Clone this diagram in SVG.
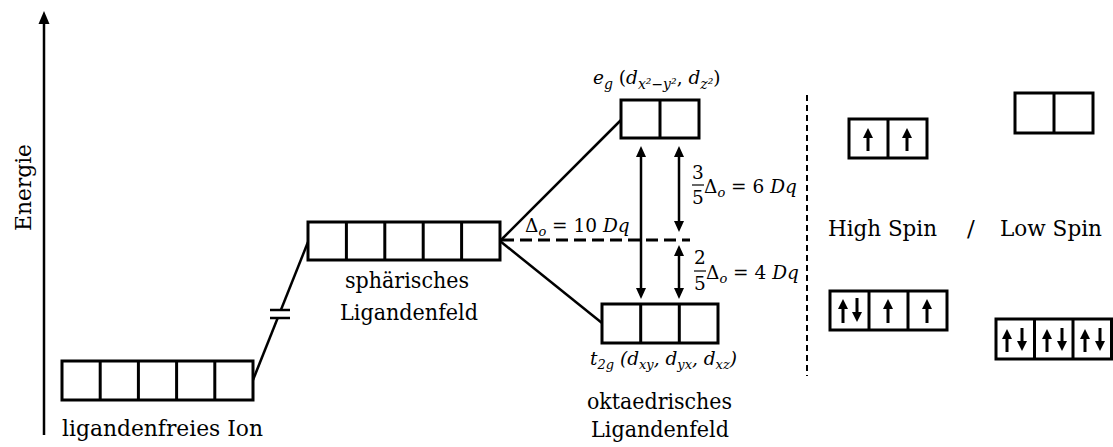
<svg xmlns="http://www.w3.org/2000/svg" width="1113" height="447" viewBox="0 0 1113 447">
<style>
.box{fill:#fff;stroke:#000;stroke-width:3}
.cell{stroke:#000;stroke-width:3}
.ln{stroke:#000;stroke-width:2.5;fill:none}
.t{font-family:'DejaVu Serif',serif;font-size:23px;fill:#000}
.m{font-family:'DejaVu Serif',serif;font-size:18.5px;fill:#000}
.i{font-style:italic}
.e{stroke:#000;stroke-width:3}
</style>
<defs>
<marker id="ah" markerUnits="userSpaceOnUse" markerWidth="12" markerHeight="12" refX="1" refY="5" orient="auto-start-reverse">
<path d="M0,0 L11,5 L0,10 Z" fill="#000"/>
</marker>
<marker id="eh" markerUnits="userSpaceOnUse" markerWidth="11" markerHeight="11" refX="1" refY="5" orient="auto">
<path d="M0,0 L10,5 L0,10 Z" fill="#000"/>
</marker>
</defs>

<g id="axis">
<line x1="44" y1="435" x2="44" y2="22" class="ln"/>
<path d="M38.5,24 L44,11 L49.5,24 Z" fill="#000"/>
<text class="t" font-size="25" transform="translate(31,231) rotate(-90)" textLength="87" lengthAdjust="spacingAndGlyphs">Energie</text>
</g>

<g id="connectors">
<line x1="253" y1="380" x2="277.7" y2="318" class="ln"/>
<line x1="280.9" y1="310" x2="308" y2="242" class="ln"/>
<line x1="270" y1="310" x2="290" y2="310" class="ln"/>
<line x1="270" y1="318" x2="290" y2="318" class="ln"/>
<line x1="500" y1="241" x2="621" y2="120" class="ln"/>
<line x1="500" y1="241" x2="602" y2="323" class="ln"/>
<line x1="502" y1="240" x2="690" y2="240" stroke="#000" stroke-width="3" stroke-dasharray="12,6"/>
<line x1="641" y1="156" x2="641" y2="289" class="ln" marker-start="url(#ah)" marker-end="url(#ah)"/>
<line x1="679" y1="156" x2="679" y2="222" class="ln" marker-start="url(#ah)" marker-end="url(#ah)"/>
<line x1="679" y1="255" x2="679" y2="289" class="ln" marker-start="url(#ah)" marker-end="url(#ah)"/>
<line x1="807" y1="95" x2="807" y2="376" stroke="#000" stroke-width="2" stroke-dasharray="6,4"/>
</g>

<g id="ligandenfreies">
<rect x="62" y="361" width="191" height="39" class="box"/>
<line x1="100.2" y1="361" x2="100.2" y2="400" class="cell"/>
<line x1="138.4" y1="361" x2="138.4" y2="400" class="cell"/>
<line x1="176.6" y1="361" x2="176.6" y2="400" class="cell"/>
<line x1="214.8" y1="361" x2="214.8" y2="400" class="cell"/>
<text class="t" x="62" y="436" textLength="201" lengthAdjust="spacingAndGlyphs">ligandenfreies Ion</text>
</g>

<g id="sphaerisch">
<rect x="308" y="222" width="192" height="38" class="box"/>
<line x1="346.4" y1="222" x2="346.4" y2="260" class="cell"/>
<line x1="384.8" y1="222" x2="384.8" y2="260" class="cell"/>
<line x1="423.2" y1="222" x2="423.2" y2="260" class="cell"/>
<line x1="461.6" y1="222" x2="461.6" y2="260" class="cell"/>
<text class="t" x="345" y="288" textLength="124" lengthAdjust="spacingAndGlyphs">sphärisches</text>
<text class="t" x="340" y="320" textLength="138" lengthAdjust="spacingAndGlyphs">Ligandenfeld</text>
</g>

<g id="eg">
<rect x="621" y="100" width="78" height="38" class="box"/>
<line x1="660" y1="100" x2="660" y2="138" class="cell"/>
<text class="m" x="593" y="84" font-size="22"><tspan class="i">e</tspan><tspan class="i" font-size="14" dy="5">g</tspan><tspan dy="-5"> (</tspan><tspan class="i">d</tspan><tspan class="i" font-size="14" dy="5">x²−y²</tspan><tspan dy="-5">, </tspan><tspan class="i">d</tspan><tspan class="i" font-size="14" dy="5">z²</tspan><tspan dy="-5">)</tspan></text>
</g>

<g id="t2g">
<rect x="602" y="304" width="116" height="39" class="box"/>
<line x1="640.7" y1="304" x2="640.7" y2="343" class="cell"/>
<line x1="679.3" y1="304" x2="679.3" y2="343" class="cell"/>
<text class="m" x="590" y="365" font-size="19"><tspan class="i">t</tspan><tspan class="i" font-size="13" dy="4">2g</tspan><tspan dy="-4" class="i"> (d</tspan><tspan class="i" font-size="13" dy="4">xy</tspan><tspan dy="-4" class="i">, d</tspan><tspan class="i" font-size="13" dy="4">yx</tspan><tspan dy="-4" class="i">, d</tspan><tspan class="i" font-size="13" dy="4">xz</tspan><tspan dy="-4" class="i">)</tspan></text>
<text class="t" x="587" y="409" textLength="145" lengthAdjust="spacingAndGlyphs">oktaedrisches</text>
<text class="t" x="591" y="437" textLength="138" lengthAdjust="spacingAndGlyphs">Ligandenfeld</text>
</g>

<g id="labels">
<text class="m" x="525" y="232">Δ<tspan class="i" font-size="13" dy="4">o</tspan><tspan dy="-4"> = 10 </tspan><tspan class="i">Dq</tspan></text>
<text class="m" x="692" y="179">3</text>
<line x1="692" y1="185" x2="704" y2="185" stroke="#000" stroke-width="1.2"/>
<text class="m" x="692" y="204">5</text>
<text class="m" x="704" y="193">Δ<tspan class="i" font-size="13" dy="4">o</tspan><tspan dy="-4"> = 6 </tspan><tspan class="i">Dq</tspan></text>
<text class="m" x="694" y="264">2</text>
<line x1="694" y1="271" x2="706" y2="271" stroke="#000" stroke-width="1.2"/>
<text class="m" x="694" y="290">5</text>
<text class="m" x="706" y="279">Δ<tspan class="i" font-size="13" dy="4">o</tspan><tspan dy="-4"> = 4 </tspan><tspan class="i">Dq</tspan></text>
<text class="t" x="828" y="236" textLength="109" lengthAdjust="spacingAndGlyphs">High Spin</text>
<text class="t" x="967" y="236">/</text>
<text class="t" x="1000" y="236" textLength="102" lengthAdjust="spacingAndGlyphs">Low Spin</text>
</g>

<g id="hs-eg">
<rect x="849" y="119" width="78" height="39" class="box"/>
<line x1="888" y1="119" x2="888" y2="158" class="cell"/>
<line x1="868" y1="151" x2="868" y2="137" class="e" marker-end="url(#eh)"/>
<line x1="907" y1="151" x2="907" y2="137" class="e" marker-end="url(#eh)"/>
</g>

<g id="ls-eg">
<rect x="1015" y="93" width="78" height="40" class="box"/>
<line x1="1054" y1="93" x2="1054" y2="133" class="cell"/>
</g>

<g id="hs-t2g">
<rect x="830" y="291" width="117" height="39" class="box"/>
<line x1="869" y1="291" x2="869" y2="330" class="cell"/>
<line x1="908" y1="291" x2="908" y2="330" class="cell"/>
<line x1="843" y1="323" x2="843" y2="308" class="e" marker-end="url(#eh)"/>
<line x1="857" y1="298" x2="857" y2="313" class="e" marker-end="url(#eh)"/>
<line x1="888" y1="323" x2="888" y2="308" class="e" marker-end="url(#eh)"/>
<line x1="927" y1="323" x2="927" y2="308" class="e" marker-end="url(#eh)"/>
</g>

<g id="ls-t2g">
<rect x="996" y="319" width="115.5" height="40" class="box"/>
<line x1="1034.5" y1="319" x2="1034.5" y2="359" class="cell"/>
<line x1="1073" y1="319" x2="1073" y2="359" class="cell"/>
<line x1="1007" y1="352" x2="1007" y2="338" class="e" marker-end="url(#eh)"/>
<line x1="1022" y1="328" x2="1022" y2="342" class="e" marker-end="url(#eh)"/>
<line x1="1047" y1="352" x2="1047" y2="338" class="e" marker-end="url(#eh)"/>
<line x1="1062" y1="328" x2="1062" y2="342" class="e" marker-end="url(#eh)"/>
<line x1="1085" y1="352" x2="1085" y2="338" class="e" marker-end="url(#eh)"/>
<line x1="1100" y1="328" x2="1100" y2="342" class="e" marker-end="url(#eh)"/>
</g>
</svg>
